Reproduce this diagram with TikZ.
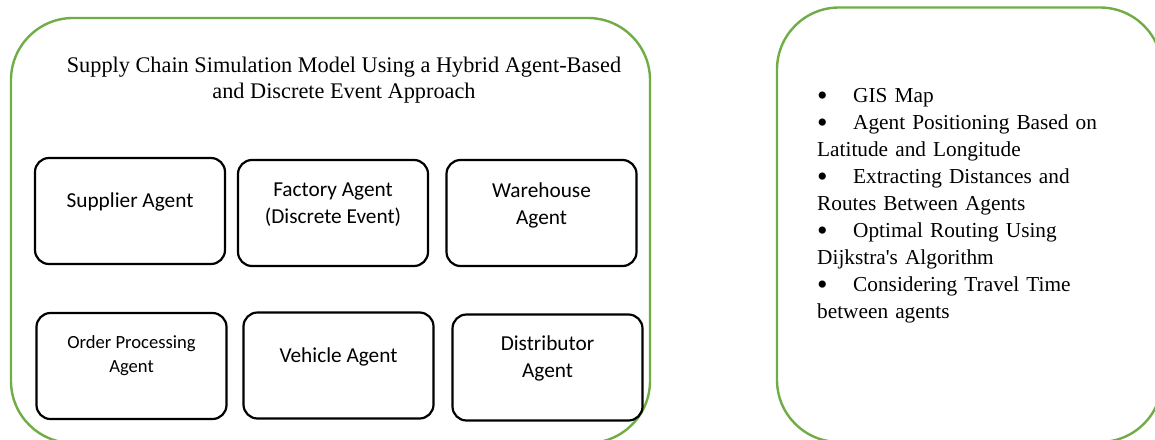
\documentclass[tikz,border=0pt]{standalone}
\usepackage{fontspec}
\setmainfont{Liberation Serif}
\newfontfamily\calibri{Carlito}
\definecolor{panelgreen}{HTML}{70AD47}
\newcommand{\listbullet}{\makebox[36pt][l]{\smash{\raisebox{-3.2pt}{\fontsize{30}{0}\selectfont\textbullet}}}}
\begin{document}
\begin{tikzpicture}[x=1pt,y=-1pt,
  panel/.style={draw=panelgreen, line width=2.4pt, rounded corners=62pt, inner sep=0pt},
  agent/.style={draw=black, line width=2.2pt, rounded corners=14pt, inner sep=0pt,
                minimum width=190pt, minimum height=106pt},
  agenttext/.style={font=\calibri\fontsize{21.3}{27}\selectfont, align=center, inner sep=0pt},
  smalltext/.style={font=\calibri\fontsize{18.6}{24}\selectfont, align=center, inner sep=0pt},
  titletext/.style={font=\fontsize{22.3}{25.5}\selectfont, align=center, inner sep=0pt},
  listtext/.style={font=\fontsize{21.3}{27}\selectfont, text width=330pt, align=left, inner sep=0pt},
]
\useasboundingbox (0,0) rectangle (1155,439);
\clip (0,0) rectangle (1155,439);

% the two green panels
\node[panel, minimum width=639pt, minimum height=425pt] (model) at (330.5,230.5) {};
\node[panel, minimum width=385pt, minimum height=434.5pt] (gis) at (969.5,224.75) {};

% title of the model panel
\node[titletext] (title) at (344,80)
  {Supply Chain Simulation Model Using a Hybrid Agent-Based\\and Discrete Event Approach};

% agent boxes
\node[agent] (supplier)    at (130,211)   {};
\node[agent] (factory)     at (333,213)   {};
\node[agent] (warehouse)   at (541.5,213) {};
\node[agent] (order)       at (131.5,366) {};
\node[agent] (vehicle)     at (338.5,365.5) {};
\node[agent] (distributor) at (547.5,367.5) {};

% agent labels
\node[agenttext] (supplierT)    at ([yshift=9.5pt]supplier.center)    {Supplier Agent};
\node[agenttext] (factoryT)     at ([yshift=8pt]factory.center)       {Factory Agent\\(Discrete Event)};
\node[agenttext] (warehouseT)   at ([yshift=8pt]warehouse.center)     {Warehouse\\Agent};
\node[smalltext] (orderT)       at ([yshift=10pt]order.center)        {Order Processing\\Agent};
\node[agenttext] (vehicleT)     at ([yshift=9pt]vehicle.center)       {Vehicle Agent};
\node[agenttext] (distributorT) at ([yshift=9.5pt]distributor.center) {Distributor\\Agent};

% GIS feature list
\node[listtext, anchor=base west] (features) at (817,102)
  {\listbullet GIS Map\\
   \listbullet Agent Positioning Based on\\
   Latitude and Longitude\\
   \listbullet Extracting Distances and\\
   Routes Between Agents\\
   \listbullet Optimal Routing Using\\
   Dijkstra\textquotesingle s Algorithm\\
   \listbullet Considering Travel Time\\
   between agents};
\end{tikzpicture}
\end{document}
